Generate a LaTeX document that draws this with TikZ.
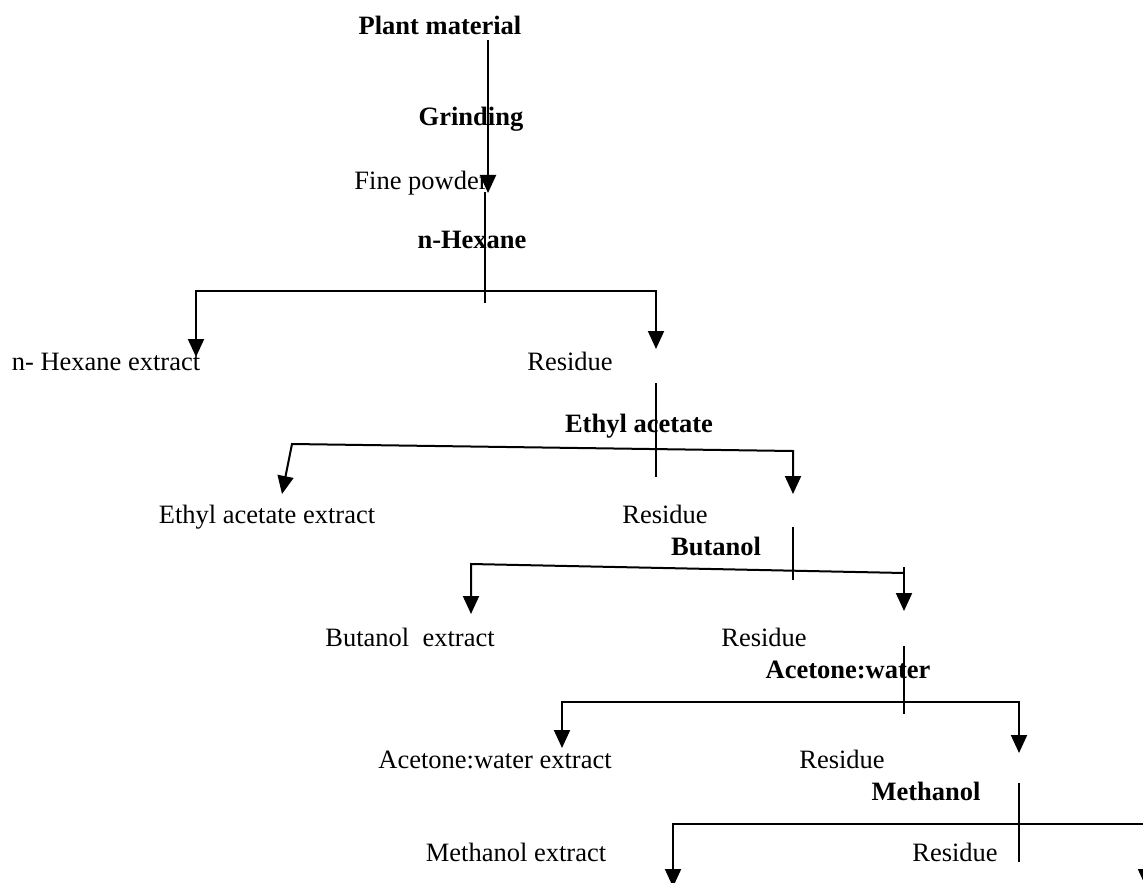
\documentclass[tikz,border=0pt]{standalone}
\usepackage{fontspec}
\setmainfont{Liberation Serif}
\usetikzlibrary{arrows.meta}

\begin{document}
\begin{tikzpicture}[x=0.5pt,y=-0.5pt,
    txt/.style={font=\fontsize{13.25}{15}\selectfont,inner sep=0pt,text height=8pt,text depth=0pt},
    solvent/.style={txt,font=\fontsize{13.25}{15}\selectfont\bfseries},
    flow/.style={line width=1pt},
    >={Triangle[width=8pt,length=9pt]}]
  \useasboundingbox (0,0) rectangle (1143,882);
  \clip (0,0) rectangle (1143,882);
  % junction points
  \coordinate (grindTop) at (488,40);
  \coordinate (grindTip) at (488,193);
  \coordinate (hexTop) at (485,192);
  \coordinate (hexBot) at (485,303);
  \coordinate (hexR) at (656,291);
  \coordinate (hexLtip) at (196,357);
  \coordinate (hexRtip) at (656,349);
  \coordinate (ethTop) at (656,383);
  \coordinate (ethBot) at (656,477);
  \coordinate (ethL) at (292,444);
  \coordinate (ethR) at (793,451);
  \coordinate (ethLtip) at (282,494);
  \coordinate (ethRtip) at (793,494);
  \coordinate (butTop) at (793,527);
  \coordinate (butBot) at (793,580);
  \coordinate (butL) at (471,564);
  \coordinate (butR) at (904,573);
  \coordinate (butLtip) at (471,614);
  \coordinate (butRtop) at (904,567);
  \coordinate (butRtip) at (904,611);
  \coordinate (aceTop) at (904,646);
  \coordinate (aceBot) at (904,714);
  \coordinate (aceR) at (1019,702);
  \coordinate (aceLtip) at (562,748);
  \coordinate (aceRtip) at (1019,753);
  \coordinate (metTop) at (1019,783);
  \coordinate (metBot) at (1019,862);
  \coordinate (metR) at (1146,824);
  \coordinate (metLtip) at (673,887);
  \coordinate (metRtip) at (1146,887);
  % connectors
  \draw[flow,->] (grindTop) -- (grindTip);
  \draw[flow] (hexTop) -- (hexBot);
  \draw[flow,<->] (hexLtip) |- (hexR) -- (hexRtip);
  \draw[flow] (ethTop) -- (ethBot);
  \draw[flow,<->] (ethLtip) -- (ethL) -- (ethR) -- (ethRtip);
  \draw[flow] (butTop) -- (butBot);
  \draw[flow,<-] (butLtip) -- (butL) -- (butR);
  \draw[flow,->] (butRtop) -- (butRtip);
  \draw[flow] (aceTop) -- (aceBot);
  \draw[flow,<->] (aceLtip) |- (aceR) -- (aceRtip);
  \draw[flow] (metTop) -- (metBot);
  \draw[flow,<->] (metLtip) |- (metR) -- (metRtip);
  % labels
  \node[solvent] (plant) at (440,27) {Plant material};
  \node[solvent] (grind) at (471,118) {Grinding};
  \node[txt] (powder) at (421,182) {Fine powder};
  \node[solvent] (hexane) at (472,240) {n-Hexane};
  \node[txt] (hexExt) at (106,362) {n- Hexane extract};
  \node[txt] (res1) at (570,362) {Residue};
  \node[solvent] (ethyl) at (639,424) {Ethyl acetate};
  \node[txt] (ethExt) at (267,515) {Ethyl acetate extract};
  \node[txt] (res2) at (665,515) {Residue};
  \node[solvent] (butanol) at (716,547) {Butanol};
  \node[txt] (butExt) at (410,638) {Butanol\ \ extract};
  \node[txt] (res3) at (764,638) {Residue};
  \node[solvent] (acetone) at (848,670) {Acetone:water};
  \node[txt] (aceExt) at (495,760) {Acetone:water extract};
  \node[txt] (res4) at (842,760) {Residue};
  \node[solvent] (methanol) at (926,792) {Methanol};
  \node[txt] (metExt) at (516,853) {Methanol extract};
  \node[txt] (res5) at (955,853) {Residue};
\end{tikzpicture}
\end{document}
